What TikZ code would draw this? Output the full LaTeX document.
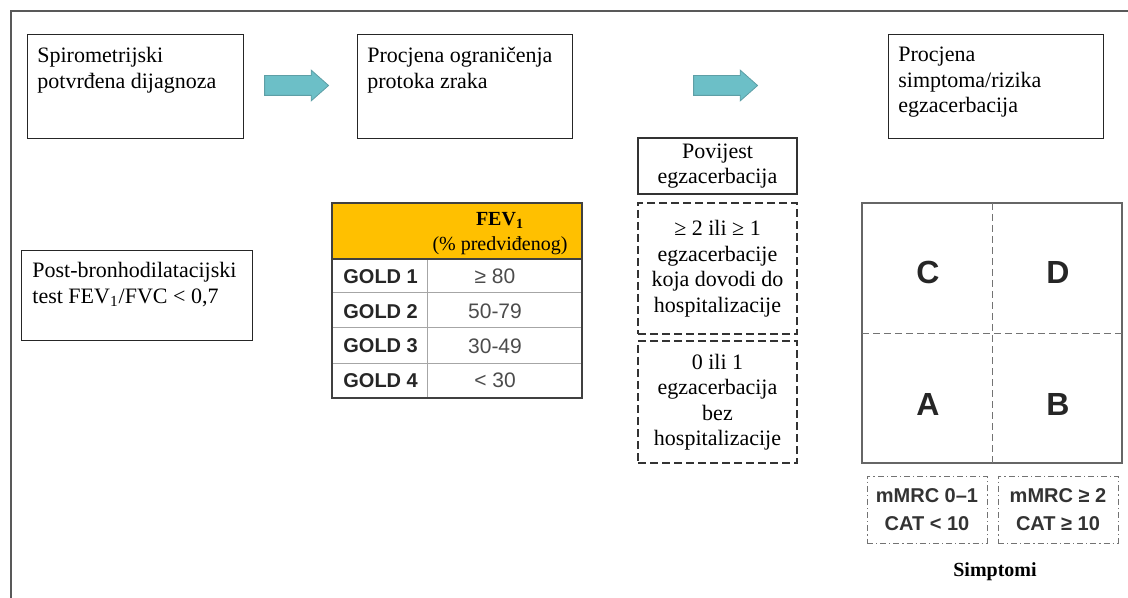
\documentclass[tikz,border=0pt]{standalone}
\usepackage{fontspec}
\setmainfont{Liberation Serif}
\setsansfont{Liberation Sans}
\usetikzlibrary{shapes.arrows}
\definecolor{goldor}{HTML}{FFC000}
\definecolor{tealarr}{HTML}{6CBFC7}
\definecolor{tealedge}{HTML}{5E9FA6}
\begin{document}
\begin{tikzpicture}[x=0.5pt,y=-0.5pt,font=\fontsize{11}{12.75}\selectfont,
	stage/.style={draw=black!85,line width=0.7pt,anchor=north west,inner sep=0pt},
	stagetext/.style={anchor=north west,align=left,inner xsep=5pt,inner ysep=6.5pt},
	blockarr/.style={single arrow,draw=tealedge,fill=tealarr,inner xsep=0pt,inner ysep=4.75pt,single arrow head extend=2.75pt,single arrow tip angle=83,minimum height=32pt},
	hist/.style={draw=black!80,line width=0.7pt,minimum width=79.5pt,align=center,inner sep=0pt},
	histdash/.style={hist,dash pattern=on 4pt off 2pt},
	gold/.style={anchor=west,inner sep=0pt,font=\sffamily\bfseries\fontsize{10}{12}\selectfont,text=black!85},
	val/.style={font=\sffamily\fontsize{10.5}{12}\selectfont,text=black!70},
	quad/.style={font=\sffamily\bfseries\fontsize{16}{18}\selectfont,text=black!85},
	symbox/.style={draw=black!55,dash pattern=on 3pt off 1.5pt on 0.6pt off 1.5pt,minimum width=60pt,minimum height=33.5pt,align=center,inner sep=0pt,font=\sffamily\bfseries\fontsize{10}{14}\selectfont,text=black!80}]
	\useasboundingbox (0,0) rectangle (1128,598);
	\draw[black!65,line width=0.9pt] (11,598) -- (11,11) -- (1128,11);
	% top row
	\node[stage,minimum width=108pt,minimum height=52pt] (spiro) at (27,34) {};
	\node[stagetext] (spirotext) at (spiro.north west) {Spirometrijski\\potvrđena dijagnoza};
	\node[stage,minimum width=107.5pt,minimum height=52pt] (ogran) at (357,34) {};
	\node[stagetext] (ograntext) at (ogran.north west) {Procjena ograničenja\\protoka zraka};
	\node[stage,minimum width=107.5pt,minimum height=52pt] (rizik) at (888,34) {};
	\node[stagetext] (riziktext) at (rizik.north west) {Procjena\\simptoma/rizika\\egzacerbacija};
	\node[blockarr] (arr1) at (291,85.5) {};
	\node[blockarr] (arr2) at (720,85.5) {};
	\node[stage,minimum width=115.5pt,minimum height=45pt] (postbd) at (21,250) {};
	\node[stagetext,inner xsep=5.5pt,inner ysep=6pt] (postbdtext) at (postbd.north west) {Post-bronhodilatacijski\\test FEV\textsubscript{1}/FVC < 0,7};
	% GOLD table
	\fill[goldor] (332,203) rectangle (582,259);
	\foreach \y in {292,327,363} \draw[black!35] (332,\y) -- (582,\y);
	\draw[black!35] (427,259) -- (427,398);
	\draw[black!75,line width=0.7pt] (332,203) rectangle (582,398) (332,259) -- (582,259);
	\node[align=center,font=\fontsize{10}{12.5}\selectfont] (fevhead) at (500,234) {\textbf{FEV\textsubscript{1}}\\(\% predviđenog)};
	\foreach \i/\v in {1/≥ 80,2/50-79,3/30-49,4/< 30}{
		\node[gold] (gold\i) at (343,{259+34.75*(\i-0.5)}) {GOLD \i};
		\node[val] (val\i) at (495,{259+34.75*(\i-0.5)}) {\v};
	}
	% exacerbation history
	\node[hist,minimum height=28pt] (povijest) at (717.5,166) {Povijest\\egzacerbacija};
	\node[histdash,minimum height=65.5pt] (exhigh) at (717.5,268.5) {≥ 2 ili ≥ 1\\egzacerbacije\\koja dovodi do\\hospitalizacije};
	\node[histdash,minimum height=61pt] (exlow) at (717.5,402) {0 ili 1\\egzacerbacija\\bez\\hospitalizacije};
	% ABCD grid
	\draw[black!60,line width=0.6pt] (862,203) rectangle (1122,463);
	\draw[black!55,dash pattern=on 3.5pt off 2pt] (992,203) -- (992,463) (862,333) -- (1122,333);
	\foreach \q/\x/\y in {C/928/272,D/1058/272,A/928/404,B/1058/404}
		\node[quad] (q\q) at (\x,\y) {\q};
	\node[symbox] (symlow) at (927,509.5) {mMRC 0–1\\CAT < 10};
	\node[symbox] (symhigh) at (1058,509.5) {mMRC ≥ 2\\CAT ≥ 10};
	\node[font=\bfseries] (simptomi) at (995,572) {Simptomi};
\end{tikzpicture}
\end{document}
